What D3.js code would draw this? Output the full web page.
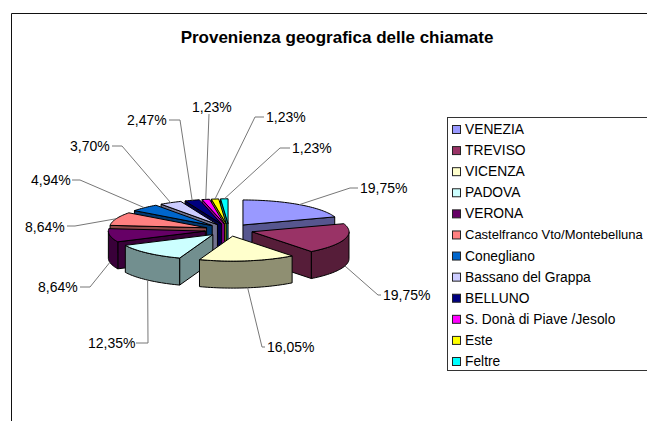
<!DOCTYPE html>
<html lang="it">
<head>
    <meta charset="UTF-8">
    <title>Provenienza geografica delle chiamate</title>
    <script src="https://d3js.org/d3.v7.min.js"></script>
    <style>
        body { margin: 0; background: #fff; overflow: hidden; }
        text { font-family: "Liberation Sans", Arial, sans-serif; font-size: 14px; fill: #000; }
    </style>
</head>
<body>
<svg id="chart"></svg>

<script>
    var categories = ["VENEZIA", "TREVISO", "VICENZA", "PADOVA", "VERONA", "Castelfranco Vto/Montebelluna",
        "Conegliano", "Bassano del Grappa", "BELLUNO", "S. Donà di Piave /Jesolo", "Este", "Feltre"];
    var percentages = [19.75, 19.75, 16.05, 12.35, 8.64, 8.64, 4.94, 3.70, 2.47, 1.23, 1.23, 1.23];
    var sliceColors = ["#9999ff", "#993366", "#ffffcc", "#ccffff", "#660066", "#ff8080",
        "#0066cc", "#ccccff", "#000080", "#ff00ff", "#ffff00", "#00ffff"];

    (function() {
        var width = 647;
        var height = 421;

        // pie geometry: squashed ellipse, extruded downwards, slices pulled out
        var cx = 229, cy = 230;
        var rx = 97, ry = 25;
        var depth = 27;
        var explode = 24;

        // where the labels were placed by hand: text x, text y, elbow of the leader
        var labelLayout = [
            {x: 360, y: 188, elbow: [350, 188], end: [358, 188]},
            {x: 383, y: 295, elbow: [378, 295], end: [381, 295]},
            {x: 267, y: 347, elbow: [262, 347], end: [265, 347]},
            {x: 88, y: 343, elbow: [148, 343], end: [136, 343]},
            {x: 38, y: 287, elbow: [90, 287], end: [80, 287]},
            {x: 25, y: 227, elbow: [75, 226], end: [67, 226]},
            {x: 31, y: 180, elbow: [80, 180], end: [72, 180]},
            {x: 70, y: 146, elbow: [122, 146], end: [112, 146]},
            {x: 127, y: 120, elbow: [180, 120], end: [169, 120]},
            {x: 192, y: 107, elbow: [209, 114], end: [209, 114]},
            {x: 266, y: 117, elbow: [255, 117], end: [264, 117]},
            {x: 292, y: 148, elbow: [280, 148], end: [290, 148]}
        ];

        var svg = d3.select("#chart")
            .attr("width", width)
            .attr("height", height);

        // outer frame, only top and left fall inside the picture
        svg.append("path")
            .attr("d", "M11.5," + height + "V13.5H" + width)
            .attr("fill", "none")
            .attr("stroke", "#111");

        svg.append("text")
            .attr("x", 337)
            .attr("y", 43)
            .attr("text-anchor", "middle")
            .style("font-size", "17px")
            .style("font-weight", "bold")
            .text("Provenienza geografica delle chiamate");

        var slices = d3.pie().sort(null).value(function(d) { return d; })(percentages);

        // angle is clockwise from 12 o'clock
        function point(a, ox, oy) {
            return [ox + rx * Math.sin(a), oy - ry * Math.cos(a)];
        }

        function shade(c, k) {
            var rgb = d3.rgb(c);
            return d3.rgb(rgb.r * k, rgb.g * k, rgb.b * k).formatHex();
        }

        var line = d3.line();

        function arcPoints(a0, a1, ox, oy) {
            var n = Math.max(2, Math.ceil((a1 - a0) / 0.03));
            return d3.range(n + 1).map(function(i) {
                return point(a0 + (a1 - a0) * i / n, ox, oy);
            });
        }

        function drop(p) {
            return [p[0], p[1] + depth];
        }

        slices.forEach(function(s, i) {
            s.index = i;
            s.mid = (s.startAngle + s.endAngle) / 2;
            s.ox = cx + explode * Math.sin(s.mid);
            s.oy = cy - explode * (ry / rx) * Math.cos(s.mid);
        });

        // paint from the back of the pie to the front
        var order = slices.slice().sort(function(a, b) {
            return d3.ascending(-Math.cos(a.mid), -Math.cos(b.mid));
        });

        var groups = svg.selectAll("g.slice")
            .data(order)
            .enter()
            .append("g")
            .attr("class", "slice")
            .attr("stroke", "#000")
            .attr("stroke-width", 1)
            .attr("stroke-linejoin", "round");

        groups.each(function(s) {
            var g = d3.select(this);
            var wall = shade(sliceColors[s.index], 0.56);
            var apex = [s.ox, s.oy];
            var p0 = point(s.startAngle, s.ox, s.oy);
            var p1 = point(s.endAngle, s.ox, s.oy);

            function face(a, b) {
                g.append("path")
                    .attr("d", line([a, b, drop(b), drop(a)]) + "Z")
                    .attr("fill", wall);
            }

            // cut faces that look towards the viewer
            if (Math.sin(s.startAngle) < -1e-6) face(apex, p0);
            if (Math.sin(s.endAngle) > 1e-6) face(apex, p1);

            // rim, only its front half can be seen
            var a0 = Math.max(s.startAngle, Math.PI / 2);
            var a1 = Math.min(s.endAngle, Math.PI * 1.5);
            if (a1 > a0) {
                var rim = arcPoints(a0, a1, s.ox, s.oy);
                g.append("path")
                    .attr("d", line(rim.concat(rim.slice().reverse().map(drop))) + "Z")
                    .attr("fill", wall);
            }

            // top of the slice
            g.append("path")
                .attr("d", line([apex].concat(arcPoints(s.startAngle, s.endAngle, s.ox, s.oy))) + "Z")
                .attr("fill", sliceColors[s.index]);
        });

        // leaders and percentages
        var formatPct = d3.formatLocale({decimal: ",", thousands: ".", grouping: [3], currency: ["", "€"]}).format(".2f");

        svg.selectAll("path.leader")
            .data(slices)
            .enter()
            .append("path")
            .attr("class", "leader")
            .attr("fill", "none")
            .attr("stroke", "#777")
            .attr("d", function(s) {
                var start = point(s.mid, s.ox, s.oy);
                if (Math.cos(s.mid) < 0) start = drop(start);
                var l = labelLayout[s.index];
                return line([start, l.elbow, l.end]);
            });

        svg.selectAll("text.pct")
            .data(slices)
            .enter()
            .append("text")
            .attr("class", "pct")
            .attr("x", function(s) { return labelLayout[s.index].x; })
            .attr("y", function(s) { return labelLayout[s.index].y + 5; })
            .text(function(s) { return formatPct(s.data) + "%"; });

        // legend, the box runs off the right side of the picture
        var legendY = d3.scalePoint()
            .domain(categories)
            .range([129, 361]);

        svg.append("rect")
            .attr("x", 447.5)
            .attr("y", 117.5)
            .attr("width", 260)
            .attr("height", 253)
            .attr("fill", "#fff")
            .attr("stroke", "#333");

        var legend = svg.selectAll("g.legend")
            .data(categories)
            .enter()
            .append("g")
            .attr("class", "legend")
            .attr("transform", function(d) { return "translate(0," + legendY(d) + ")"; });

        legend.append("rect")
            .attr("x", 452.5)
            .attr("y", -3.5)
            .attr("width", 8)
            .attr("height", 8)
            .attr("stroke", "#222")
            .attr("fill", function(d, i) { return sliceColors[i]; });

        legend.append("text")
            .attr("x", 465)
            .attr("y", 5)
            .style("font-size", "13.8px")
            .text(function(d) { return d; })
            .each(function() {
                // the long name has to stop short of the picture edge
                var room = width - 465 - 4;
                var w = this.getComputedTextLength();
                if (w > room) {
                    d3.select(this).style("font-size", (13.8 * room / w) + "px");
                }
            });
    })();
</script>
</body>
</html>
